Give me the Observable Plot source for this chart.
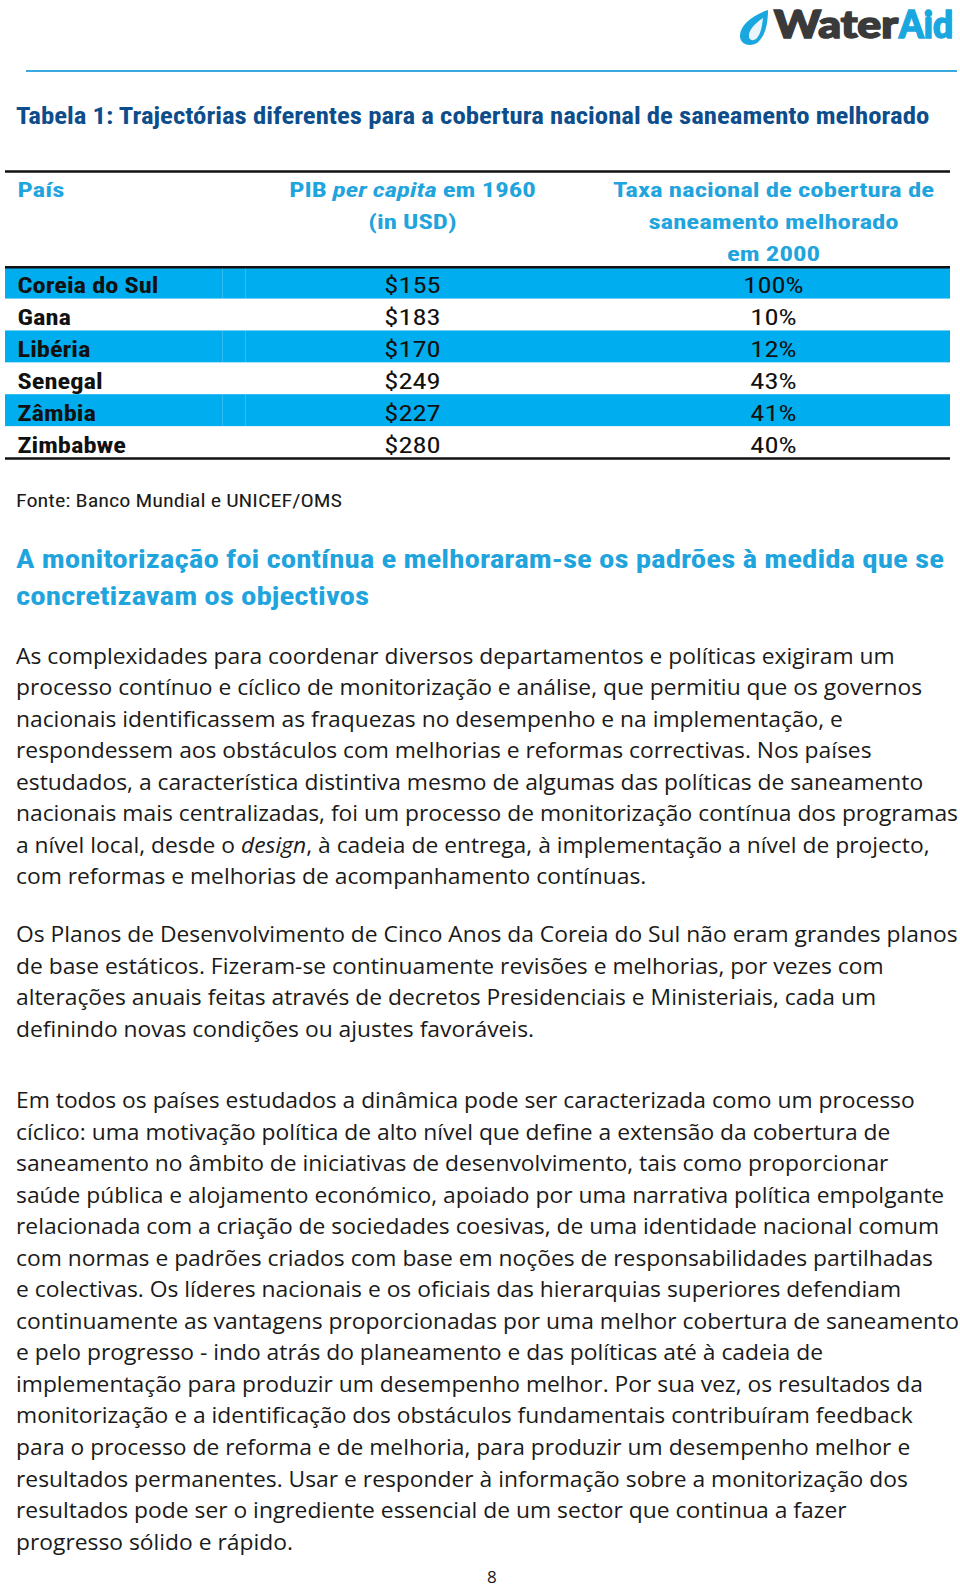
<!DOCTYPE html>
<html><head><meta charset="utf-8">
<script src="https://cdn.jsdelivr.net/npm/d3@7"></script>
<script src="https://cdn.jsdelivr.net/npm/@observablehq/plot@0.6"></script>
<style>
body{margin:0;background:#fff;}
#page{position:relative;width:960px;height:1588px;overflow:hidden;background:#fff;}
.blk{position:absolute;left:16px;white-space:nowrap;transform-origin:0 0;}
.blk div{white-space:nowrap;}
</style>
</head><body><div id="page"></div>
<script>
// ---------- data ----------
const countries = ["Coreia do Sul","Gana","Libéria","Senegal","Zâmbia","Zimbabwe"];
const gdpPerCapita1960 = [155,183,170,249,227,280];
const sanitationCoverage2000 = [100,10,12,43,41,40];
const headerCountry = ["País"];
const headerGdp = ["PIB per capita em 1960","(in USD)"];
const headerRate = ["Taxa nacional de cobertura de","saneamento melhorado","em 2000"];
const tableTitle = "Tabela 1: Trajectórias diferentes para a cobertura nacional de saneamento melhorado";
const sourceNote = "Fonte: Banco Mundial e UNICEF/OMS";
const sectionHeading = ["A monitorização foi contínua e melhoraram-se os padrões à medida que se","concretizavam os objectivos"];
const paragraph1 = [
"As complexidades para coordenar diversos departamentos e políticas exigiram um",
"processo contínuo e cíclico de monitorização e análise, que permitiu que os governos",
"nacionais identificassem as fraquezas no desempenho e na implementação, e",
"respondessem aos obstáculos com melhorias e reformas correctivas. Nos países",
"estudados, a característica distintiva mesmo de algumas das políticas de saneamento",
"nacionais mais centralizadas, foi um processo de monitorização contínua dos programas",
"a nível local, desde o design, à cadeia de entrega, à implementação a nível de projecto,",
"com reformas e melhorias de acompanhamento contínuas."];
const paragraph2 = [
"Os Planos de Desenvolvimento de Cinco Anos da Coreia do Sul não eram grandes planos",
"de base estáticos. Fizeram-se continuamente revisões e melhorias, por vezes com",
"alterações anuais feitas através de decretos Presidenciais e Ministeriais, cada um",
"definindo novas condições ou ajustes favoráveis."];
const paragraph3 = [
"Em todos os países estudados a dinâmica pode ser caracterizada como um processo",
"cíclico: uma motivação política de alto nível que define a extensão da cobertura de",
"saneamento no âmbito de iniciativas de desenvolvimento, tais como proporcionar",
"saúde pública e alojamento económico, apoiado por uma narrativa política empolgante",
"relacionada com a criação de sociedades coesivas, de uma identidade nacional comum",
"com normas e padrões criados com base em noções de responsabilidades partilhadas",
"e colectivas. Os líderes nacionais e os oficiais das hierarquias superiores defendiam",
"continuamente as vantagens proporcionadas por uma melhor cobertura de saneamento",
"e pelo progresso - indo atrás do planeamento e das políticas até à cadeia de",
"implementação para produzir um desempenho melhor. Por sua vez, os resultados da",
"monitorização e a identificação dos obstáculos fundamentais contribuíram feedback",
"para o processo de reforma e de melhoria, para produzir um desempenho melhor e",
"resultados permanentes. Usar e responder à informação sobre a monitorização dos",
"resultados pode ser o ingrediente essencial de um sector que continua a fazer",
"progresso sólido e rápido."];
const pageNumber = "8";

// ---------- styles ----------
const COND = '"Liberation Sans Narrow","Roboto Condensed","DejaVu Sans Condensed","Arial Narrow",Roboto,sans-serif';
const BODY = '"Open Sans","Noto Sans",sans-serif';
const CYAN = "#00aeef", HEAD = "#1fa4dd", NAVY = "#0d4d8c";

const page = document.getElementById("page");
const cvs = document.createElement("canvas").getContext("2d");
function measure(txt, weight, size, fam){ cvs.font = `${weight} ${size}px ${fam}`; return cvs.measureText(txt).width; }

function block(lines, {top, size, lh, weight="normal", fam=BODY, color="#1a1a1a", ref, target, left=16}){
  const d = document.createElement("div");
  d.className = "blk";
  Object.assign(d.style, {top: top+"px", left: left+"px", fontSize: size+"px", lineHeight: lh+"px", fontWeight: weight, fontFamily: fam, color});
  lines.forEach(t=>{ const l=document.createElement("div"); l.innerHTML = t.replace(/\bdesign\b/, "<i>design</i>"); d.appendChild(l); });
  if (ref){ let k = target / measure(ref, weight, size, fam); k=Math.max(0.7,Math.min(1.3,k)); d.style.transform = `scaleX(${k})`; }
  page.appendChild(d);
  return d;
}

// ---------- header / logo ----------
page.insertAdjacentHTML("beforeend", `
<svg style="position:absolute;left:0;top:0" width="960" height="80">
  <path d="M768 10 C752 15 739 26 740 37 C741 45 750 47 757 43 C765 37 768 24 768 10 Z" fill="#1aa7e0"/>
  <path d="M763 18 C754 24 748 31 749 37 C750 41 754 41 757 38 C761 33 762 26 763 18 Z" fill="#fff" opacity="0.9"/>
  <text x="774" y="38" font-family="Lato,Roboto,sans-serif" font-weight="900" font-size="37" fill="#3a3a3a" stroke="#3a3a3a" stroke-width="1.6" textLength="124" lengthAdjust="spacingAndGlyphs">Water</text>
  <text x="899" y="38" font-family="Lato,Roboto,sans-serif" font-weight="900" font-size="37" fill="#1aa7e0" stroke="#1aa7e0" stroke-width="1.6" textLength="54" lengthAdjust="spacingAndGlyphs">Aid</text>
  <line x1="26" x2="957" y1="71" y2="71" stroke="#3aa9df" stroke-width="2"/>
</svg>`);

block([tableTitle], {top: 100.5, size: 24, lh: 30, weight: "bold", fam: COND, color: NAVY, ref: tableTitle, target: 914});

// ---------- table (Plot) ----------
const tableRows = countries.map((c,i)=>({row: 3+i, country: c, gdp: "$"+gdpPerCapita1960[i], rate: sanitationCoverage2000[i]+"%", shaded: i%2===0}));
const COL = {left: 5, right: 950, country: 17, gdp: 412, rate: 773};
const rowsTotal = 3 + countries.length;

const table = Plot.plot({
  width: 960, height: 310, margin: 0,
  style: {background: "transparent", overflow: "visible"},
  x: {domain: [0, 960], range: [0, 960], axis: null},
  y: {domain: [0, rowsTotal], range: [11, 298], axis: null},
  marks: [
    Plot.rectY(tableRows.filter(d=>d.shaded), {x1: ()=>COL.left, x2: ()=>COL.right, y1: d=>d.row, y2: d=>d.row+1, fill: CYAN}),
    Plot.ruleX(tableRows.filter(d=>d.shaded), {x: ()=>222, y1: d=>d.row, y2: d=>d.row+1, stroke: "#ffffff", strokeOpacity: 0.18}),
    Plot.ruleX(tableRows.filter(d=>d.shaded), {x: ()=>245, y1: d=>d.row, y2: d=>d.row+1, stroke: "#ffffff", strokeOpacity: 0.18}),
    Plot.ruleY([0, 3, rowsTotal], {x1: ()=>COL.left, x2: ()=>COL.right, stroke: "#111", strokeWidth: 2.5}),
    Plot.text(headerCountry, {x: ()=>COL.country, y: (d,i)=>i+0.5, text: d=>d, dy: 3, textAnchor: "start", fill: HEAD, fontWeight: "bold", fontSize: 21, fontFamily: COND, className: "hd"}),
    Plot.text(headerGdp, {x: ()=>COL.gdp, y: (d,i)=>i+0.5, text: d=>d, dy: 3, textAnchor: "middle", fill: HEAD, fontWeight: "bold", fontSize: 21, fontFamily: COND, className: "hd"}),
    Plot.text(headerRate, {x: ()=>COL.rate, y: (d,i)=>i+0.5, text: d=>d, dy: 3, textAnchor: "middle", fill: HEAD, fontWeight: "bold", fontSize: 21, fontFamily: COND, className: "hd"}),
    Plot.text(tableRows, {x: ()=>COL.country, y: d=>d.row+0.5, text: "country", dy: 3, textAnchor: "start", fill: "#111", fontWeight: "bold", fontSize: 22, fontFamily: COND, className: "rc"}),
    Plot.text(tableRows, {x: ()=>COL.gdp, y: d=>d.row+0.5, text: "gdp", dy: 3, textAnchor: "middle", fill: "#111", fontSize: 22, fontFamily: COND, className: "rv"}),
    Plot.text(tableRows, {x: ()=>COL.rate, y: d=>d.row+0.5, text: "rate", dy: 3, textAnchor: "middle", fill: "#111", fontSize: 22, fontFamily: COND, className: "rv"})
  ]
});
table.style.position = "absolute"; table.style.left = "0px"; table.style.top = "160px";
page.appendChild(table);

// italic "per capita"
table.querySelectorAll("text").forEach(t=>{
  if (t.textContent === "PIB per capita em 1960"){
    t.textContent = "";
    const NS = "http://www.w3.org/2000/svg";
    t.appendChild(document.createTextNode("PIB "));
    const ts = document.createElementNS(NS, "tspan"); ts.setAttribute("font-style","italic"); ts.textContent = "per capita"; t.appendChild(ts);
    t.appendChild(document.createTextNode(" em 1960"));
  }
});
function fitGroup(cls, refText, target){
  const texts = [...table.querySelectorAll(`g.${cls} text, .${cls} text`)];
  const ref = texts.find(t=>t.textContent===refText); if(!ref) return;
  let k = target / ref.getComputedTextLength(); k = Math.max(0.7, Math.min(1.3, k));
  texts.forEach(t=>{ const L=t.getComputedTextLength(); t.setAttribute("textLength", L*k); t.setAttribute("lengthAdjust","spacingAndGlyphs"); });
}
fitGroup("hd", "Taxa nacional de cobertura de", 321);
fitGroup("rc", "Coreia do Sul", 141);
fitGroup("rv", "100%", 61);

// ---------- text below ----------
block([sourceNote], {top: 489, size: 19, lh: 24, fam: COND, color: "#1a1a1a", ref: sourceNote, target: 326});
block(sectionHeading, {top: 541, size: 26, lh: 36.5, weight: "bold", fam: COND, color: HEAD, ref: sectionHeading[0], target: 928});
const bodyRef = paragraph1[5];
block(paragraph1, {top: 639.5, size: 22, lh: 31.55, ref: bodyRef, target: 942});
block(paragraph2, {top: 918, size: 22, lh: 31.55, ref: bodyRef, target: 942});
block(paragraph3, {top: 1084, size: 22, lh: 31.55, ref: bodyRef, target: 942});
block([pageNumber], {top: 1567.5, size: 17, lh: 17, left: 487});
</script>
</body></html>
